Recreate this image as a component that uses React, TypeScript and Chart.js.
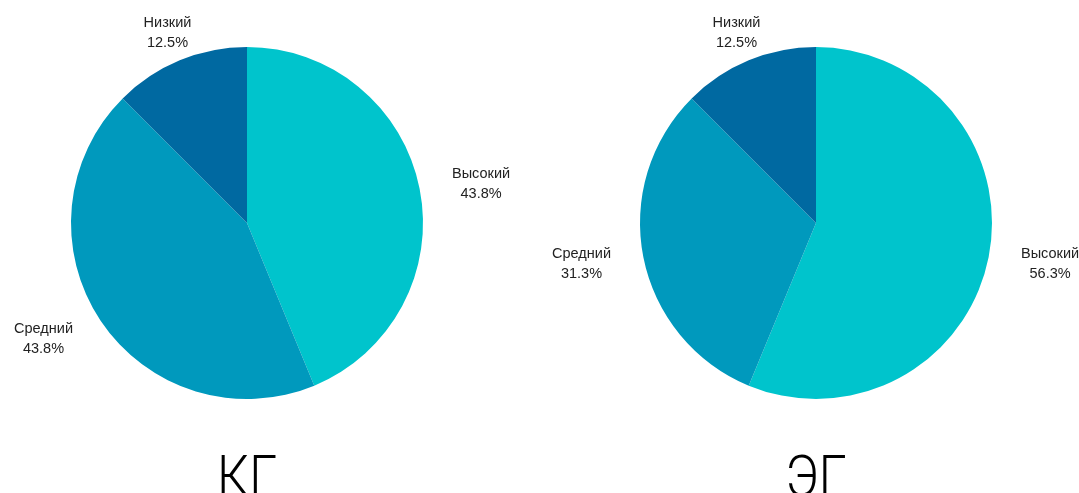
import React, { useEffect, useRef } from "react";
import { Chart, registerables } from "chart.js";

Chart.register(...registerables);

const categories = ["Высокий", "Средний", "Низкий"];
const kgValues = [43.8, 43.8, 12.5];
const egValues = [56.3, 31.3, 12.5];
const groupTitles = ["КГ", "ЭГ"];
const sliceColors = ["#00C4CC", "#0099BD", "#0069A1"];

const labelPlugin = {
  id: "outLabels",
  afterDraw(chart: any, _args: any, opts: any) {
    const ctx = chart.ctx;
    const meta = chart.getDatasetMeta(0);
    const data = chart.data.datasets[0].data;
    ctx.save();
    ctx.font = "14.5px 'Liberation Sans', Arial, sans-serif";
    ctx.fillStyle = "#222";
    ctx.textAlign = "center";
    ctx.textBaseline = "alphabetic";
    meta.data.forEach((arc: any, i: number) => {
      const p = arc.getProps(["x", "y", "startAngle", "endAngle", "outerRadius"], true);
      const mid = (p.startAngle + p.endAngle) / 2;
      const c = Math.cos(mid);
      const s = Math.sin(mid);
      const R = p.outerRadius + 32;
      const line1 = String(chart.data.labels[i]);
      const line2 = data[i].toFixed(1) + "%";
      const w = Math.max(ctx.measureText(line1).width, ctx.measureText(line2).width);
      let cx = p.x + c * R;
      if (Math.abs(c) > 0.5) cx += Math.sign(c) * (w / 2 + 1);
      const cy = p.y + s * (R - 1);
      ctx.fillText(line1, cx, cy - 5);
      ctx.fillText(line2, cx, cy + 15);
    });
    const first = meta.data[0];
    if (first) {
      ctx.font = "300 58px Roboto, 'Open Sans', sans-serif";
      ctx.fillStyle = "#000";
      ctx.textBaseline = "alphabetic";
      ctx.translate(first.x, 496);
      ctx.scale(0.87, 1);
      ctx.fillText(opts.title, 0, 0);
    }
    ctx.restore();
  },
};

function PieChart({
  values,
  title,
  left,
  width,
  padding,
}: {
  values: number[];
  title: string;
  left: number;
  width: number;
  padding: { left: number; right: number; top: number; bottom: number };
}) {
  const ref = useRef<HTMLCanvasElement | null>(null);
  useEffect(() => {
    if (!ref.current) return;
    const chart = new Chart(ref.current, {
      type: "pie",
      data: {
        labels: categories,
        datasets: [
          {
            data: values,
            backgroundColor: sliceColors,
            borderWidth: 0,
          },
        ],
      },
      options: {
        animation: false,
        responsive: false,
        maintainAspectRatio: false,
        layout: { padding },
        plugins: {
          legend: { display: false },
          tooltip: { enabled: false },
          outLabels: { title },
        } as any,
      },
      plugins: [labelPlugin as any],
    });
    return () => chart.destroy();
  }, []);
  return (
    <canvas
      ref={ref}
      width={width}
      height={493}
      style={{ position: "absolute", left, top: 0, width, height: 493 }}
    />
  );
}

export default function App() {
  useEffect(() => {
    document.body.style.margin = "0";
  }, []);
  return (
    <div style={{ position: "relative", width: 1079, height: 493, background: "#fff", overflow: "hidden" }}>
      <PieChart
        values={kgValues}
        title={groupTitles[0]}
        left={0}
        width={540}
        padding={{ left: 71, right: 117, top: 47, bottom: 94 }}
      />
      <PieChart
        values={egValues}
        title={groupTitles[1]}
        left={540}
        width={539}
        padding={{ left: 100, right: 87, top: 47, bottom: 94 }}
      />
    </div>
  );
}
